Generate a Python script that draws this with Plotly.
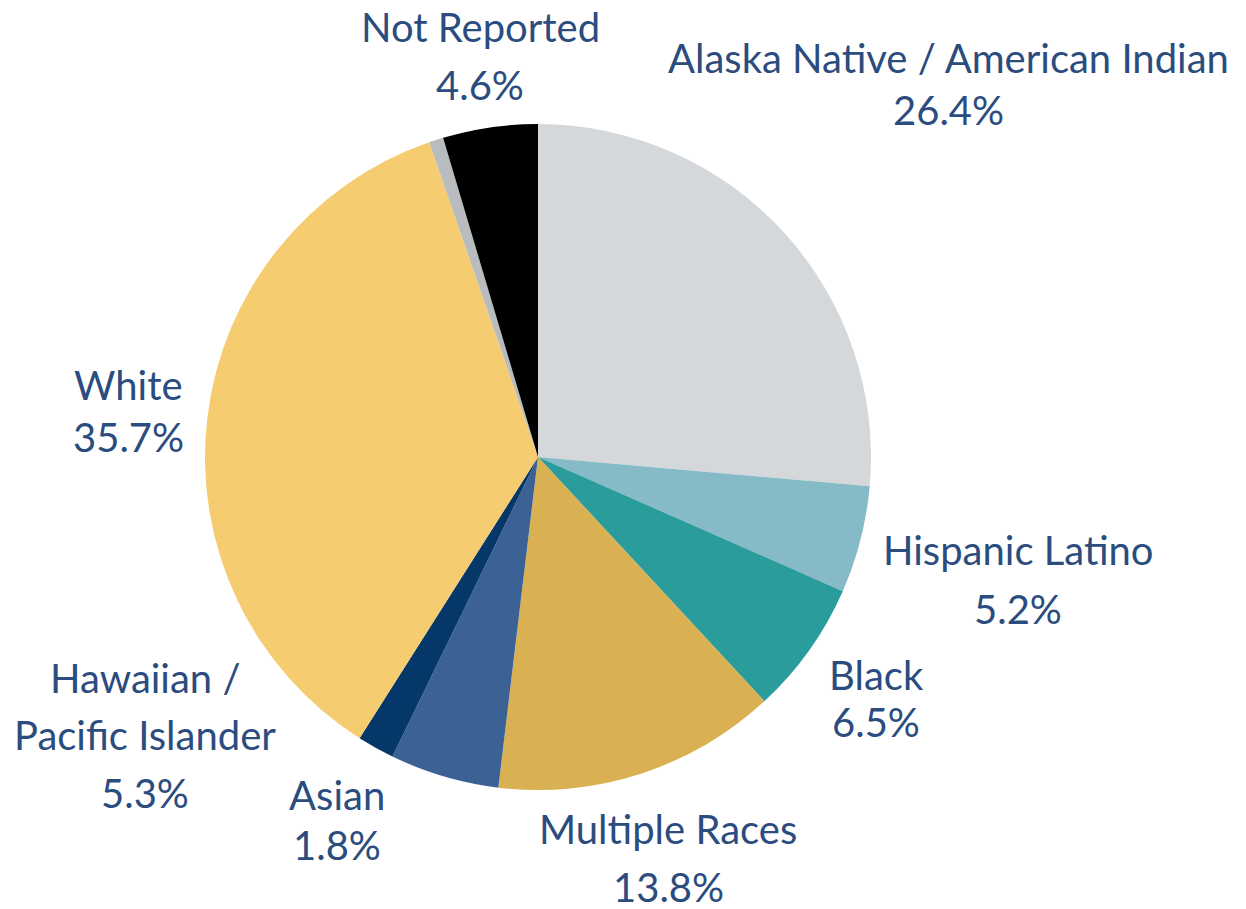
import plotly.graph_objects as go

categories = ["Alaska Native / American Indian", "Hispanic Latino", "Black", "Multiple Races",
              "Hawaiian / Pacific Islander", "Asian", "White", "Other", "Not Reported"]
values = [26.4, 5.2, 6.5, 13.8, 5.3, 1.8, 35.7, 0.7, 4.6]
colors = ["#D5D8DB", "#86BAC6", "#2B9C9C", "#DAB152", "#3C6194", "#053768", "#F5CC6F", "#B9BCBF", "#000000"]

# label text lines and their placement in screen pixels (x centre, y centre of each line)
label_lines = {
    "Not Reported": (["Not Reported", "4.6%"], 480, [27, 85]),
    "Alaska Native / American Indian": (["Alaska Native / American Indian", "26.4%"], 948, [58, 110]),
    "White": (["White", "35.7%"], 128, [385, 437]),
    "Hispanic Latino": (["Hispanic Latino", "5.2%"], 1018, [550, 609]),
    "Black": (["Black", "6.5%"], 876, [675, 722]),
    "Multiple Races": (["Multiple Races", "13.8%"], 668, [829, 887]),
    "Asian": (["Asian", "1.8%"], 337, [795, 845]),
    "Hawaiian / Pacific Islander": (["Hawaiian /", "Pacific Islander", "5.3%"], 145, [678, 735, 793]),
}

W, H = 1246, 909
BODY = 8  # default page body margin
ML, MR, MT, MB = 197, 383, 116, 127
PW = W - ML - MR
PH = H - MT - MB
X0, Y0 = ML + BODY, MT + BODY  # screen position of plot area

fig = go.Figure(go.Pie(
    labels=categories, values=values, sort=False, direction="clockwise", rotation=0,
    marker=dict(colors=colors, line=dict(width=0)), textinfo="none", hoverinfo="skip",
    showlegend=False,
))

annotations = []
for cat, (lines, x, ys) in label_lines.items():
    for line, y in zip(lines, ys):
        annotations.append(dict(
            text=line, x=(x - X0) / PW, y=1 - (y - Y0) / PH, xref="paper", yref="paper",
            xanchor="center", yanchor="middle", showarrow=False,
            font=dict(family="Lato", size=40, color="#2B4C7E"),
        ))

fig.update_layout(
    width=W, height=H,
    margin=dict(l=ML, r=MR, t=MT, b=MB),
    paper_bgcolor="white", plot_bgcolor="white",
    annotations=annotations,
)
fig.write_html("out.html")
